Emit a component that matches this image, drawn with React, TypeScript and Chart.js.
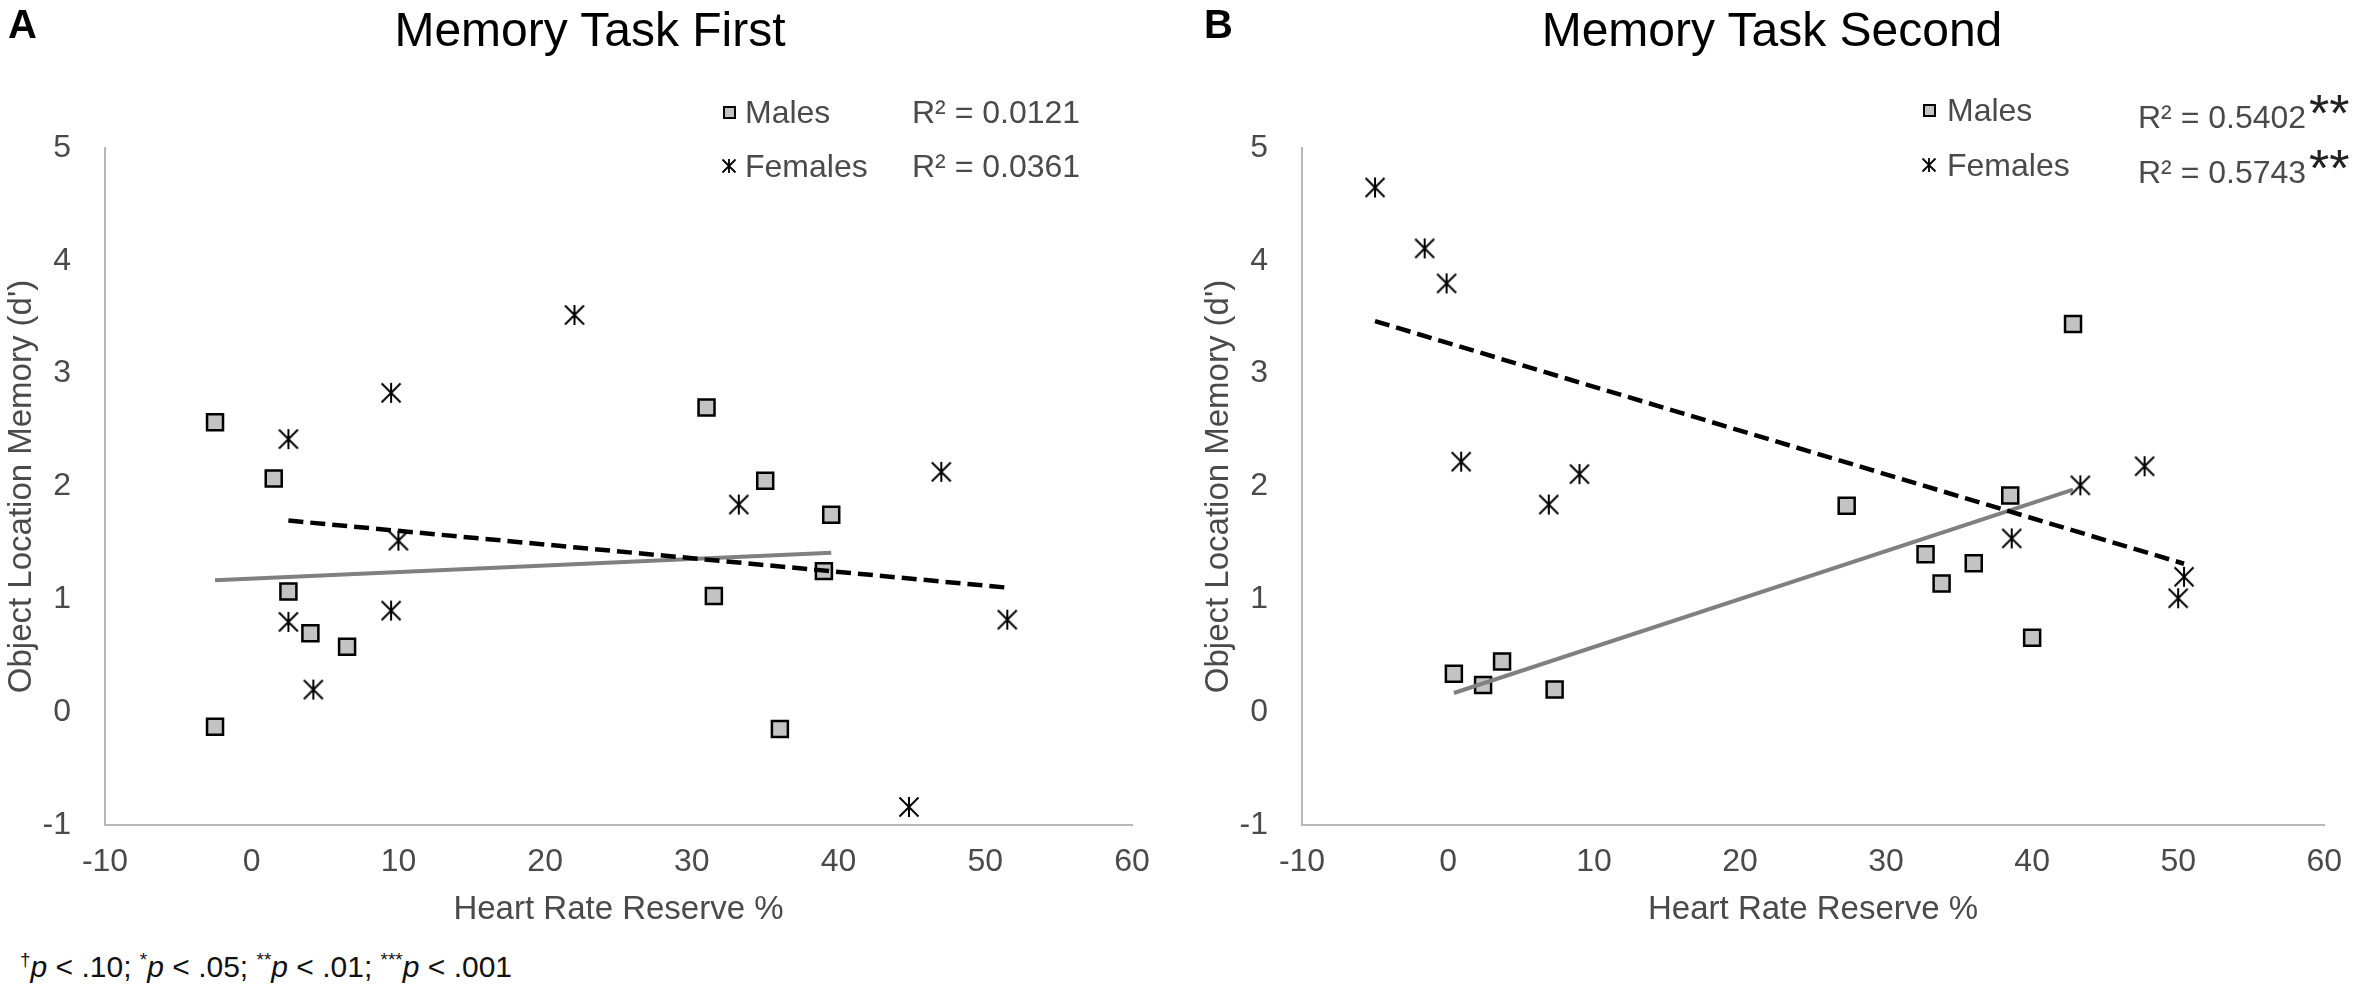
import { useEffect, useRef } from "react"
import { Chart, registerables } from "chart.js"

Chart.register(...registerables)

// Panel A: memory task first
const firstMalesX = [-2.5, 1.5, 2.5, 4, 6.5, -2.5, 31, 35, 39.5, 31.5, 39, 36]
const firstMalesY = [2.57, 2.07, 1.07, 0.7, 0.58, -0.13, 2.7, 2.05, 1.75, 1.03, 1.25, -0.15]
const firstFemalesX = [2.5, 9.5, 22, 10, 2.5, 9.5, 4.2, 33.2, 47, 51.5, 44.8]
const firstFemalesY = [2.42, 2.83, 3.52, 1.52, 0.8, 0.9, 0.2, 1.84, 2.13, 0.82, -0.84]

// Panel B: memory task second
const secondMalesX = [0.4, 2.4, 3.7, 7.3, 27.3, 32.7, 33.8, 36, 38.5, 40, 42.8]
const secondMalesY = [0.34, 0.24, 0.45, 0.2, 1.83, 1.4, 1.14, 1.32, 1.92, 0.66, 3.44]
const secondFemalesX = [-5, -1.6, -0.1, 0.9, 6.9, 9, 38.6, 43.3, 47.7, 50.4, 50]
const secondFemalesY = [4.65, 4.11, 3.8, 2.22, 1.84, 2.11, 1.54, 2.01, 2.18, 1.2, 1.01]

const firstR2 = ["R² = 0.0121", "R² = 0.0361"]
const secondR2 = ["R² = 0.5402", "R² = 0.5743"]

const FONT = "'Liberation Sans', Arial, Helvetica, sans-serif"
const TEXT = "#4a4a4a"

function toPoints(xs: number[], ys: number[]) {
  return xs.map((x, i) => ({ x, y: ys[i] }))
}

// least squares trendline, drawn over the x range of the data
function trend(xs: number[], ys: number[]) {
  const n = xs.length
  const mx = xs.reduce((a, b) => a + b, 0) / n
  const my = ys.reduce((a, b) => a + b, 0) / n
  let sxy = 0
  let sxx = 0
  for (let i = 0; i < n; i++) {
    sxy += (xs[i] - mx) * (ys[i] - my)
    sxx += (xs[i] - mx) * (xs[i] - mx)
  }
  const slope = sxy / sxx
  const b = my - slope * mx
  const lo = Math.min(...xs)
  const hi = Math.max(...xs)
  return [
    { x: lo, y: b + slope * lo },
    { x: hi, y: b + slope * hi },
  ]
}

function makeStar(size: number) {
  const c = document.createElement("canvas")
  c.width = size
  c.height = size
  const ctx = c.getContext("2d")!
  const h = size / 2 - 1.5
  ctx.translate(size / 2, size / 2)
  ctx.strokeStyle = "#000"
  ctx.lineWidth = 2
  ctx.beginPath()
  ctx.moveTo(-h, -h)
  ctx.lineTo(h, h)
  ctx.moveTo(h, -h)
  ctx.lineTo(-h, h)
  ctx.moveTo(0, -h - 0.5)
  ctx.lineTo(0, h + 0.5)
  ctx.stroke()
  return c
}

interface PanelProps {
  malesX: number[]
  malesY: number[]
  femalesX: number[]
  femalesY: number[]
  left: number
  width: number
  padRight: number
}

function Panel({ malesX, malesY, femalesX, femalesY, left, width, padRight }: PanelProps) {
  const canvasRef = useRef<HTMLCanvasElement>(null)

  useEffect(() => {
    if (!canvasRef.current) return
    const star = makeStar(22)
    const tickFont = { family: FONT, size: 32 }
    const titleFont = { family: FONT, size: 33 }

    const chart = new Chart(canvasRef.current, {
      type: "scatter",
      data: {
        datasets: [
          {
            label: "Males",
            data: toPoints(malesX, malesY),
            pointStyle: "rect",
            radius: 11.3,
            backgroundColor: "#c3c3c3",
            borderColor: "#000",
            borderWidth: 2.5,
            order: 2,
          },
          {
            label: "Females",
            data: toPoints(femalesX, femalesY),
            pointStyle: star,
            radius: 11,
            order: 2,
          },
          {
            type: "line",
            label: "Males trend",
            data: trend(malesX, malesY),
            borderColor: "#808080",
            borderWidth: 4,
            pointRadius: 0,
            order: 1,
          },
          {
            type: "line",
            label: "Females trend",
            data: trend(femalesX, femalesY),
            borderColor: "#000",
            borderWidth: 4.5,
            borderDash: [15, 7],
            pointRadius: 0,
            order: 0,
          },
        ],
      },
      options: {
        animation: false,
        responsive: false,
        devicePixelRatio: 1,
        layout: { padding: { top: 148, right: padRight, left: 0, bottom: 0 } },
        plugins: { legend: { display: false }, tooltip: { enabled: false } },
        scales: {
          x: {
            type: "linear",
            min: -10,
            max: 60,
            ticks: { stepSize: 10, font: tickFont, color: TEXT, padding: 18 },
            grid: { display: false, drawTicks: false },
            border: { color: "#b8b8b8", width: 2 },
            title: {
              display: true,
              text: "Heart Rate Reserve %",
              font: titleFont,
              color: TEXT,
              padding: { top: 0, bottom: 10 },
            },
            afterFit: (s) => {
              s.height = 115
            },
          },
          y: {
            type: "linear",
            min: -1,
            max: 5,
            ticks: { stepSize: 1, font: tickFont, color: TEXT, padding: 34 },
            grid: { display: false, drawTicks: false },
            border: { color: "#b8b8b8", width: 2 },
            title: {
              display: true,
              text: "Object Location Memory (d')",
              font: titleFont,
              color: TEXT,
              padding: { top: 2, bottom: 0 },
            },
            afterFit: (s) => {
              s.width = 105
            },
          },
        },
      },
    })

    return () => {
      chart.destroy()
    }
  }, [malesX, malesY, femalesX, femalesY, padRight])

  return (
    <canvas
      ref={canvasRef}
      width={width}
      height={940}
      style={{ position: "absolute", left, top: 0, width, height: 940 }}
    />
  )
}

function StarIcon() {
  return (
    <svg width="16" height="16" viewBox="0 0 16 16" style={{ display: "block" }}>
      <path d="M1.5 1.5 L14.5 14.5 M14.5 1.5 L1.5 14.5 M8 1 L8 15" stroke="#000" strokeWidth="1.8" fill="none" />
    </svg>
  )
}

function SquareIcon() {
  return (
    <div
      style={{
        width: 13,
        height: 13,
        boxSizing: "border-box",
        background: "#c3c3c3",
        border: "2px solid #000",
      }}
    />
  )
}

interface LegendProps {
  markerX: number
  textX: number
  r2X: number
  rows: number[]
  r2: string[]
  stars?: boolean
}

function Legend({ markerX, textX, r2X, rows, r2, stars }: LegendProps) {
  const labels = ["Males", "Females"]
  return (
    <>
      {labels.map((lab, i) => (
        <div key={lab}>
          <div style={{ position: "absolute", left: markerX - 10, top: rows[i] - 10, width: 20, height: 20, display: "flex", alignItems: "center", justifyContent: "center" }}>
            {i === 0 ? <SquareIcon /> : <StarIcon />}
          </div>
          <div style={{ position: "absolute", left: textX, top: rows[i] - 16, fontSize: 32, lineHeight: "32px", color: TEXT, whiteSpace: "nowrap" }}>
            {lab}
          </div>
          <div style={{ position: "absolute", left: r2X, top: rows[i] - 16, fontSize: 32, lineHeight: "32px", color: TEXT, whiteSpace: "nowrap" }}>
            {r2[i]}
            {stars && (
              <span style={{ position: "relative", top: 3, fontSize: 52, lineHeight: "32px", color: "#222", marginLeft: 3 }}>**</span>
            )}
          </div>
        </div>
      ))}
    </>
  )
}

export default function App() {
  return (
    <div
      style={{
        position: "fixed",
        left: 0,
        top: 0,
        width: 2360,
        height: 990,
        background: "#fff",
        overflow: "hidden",
        fontFamily: FONT,
      }}
    >
      <Panel malesX={firstMalesX} malesY={firstMalesY} femalesX={firstFemalesX} femalesY={firstFemalesY} left={0} width={1180} padRight={48} />
      <Panel malesX={secondMalesX} malesY={secondMalesY} femalesX={secondFemalesX} femalesY={secondFemalesY} left={1197} width={1163} padRight={29} />

      <div style={{ position: "absolute", left: 8, top: 4, fontSize: 40, lineHeight: "40px", fontWeight: "bold", color: "#000" }}>A</div>
      <div style={{ position: "absolute", left: 1204, top: 4, fontSize: 40, lineHeight: "40px", fontWeight: "bold", color: "#000" }}>B</div>
      <div style={{ position: "absolute", left: 90, width: 1000, top: 6, textAlign: "center", fontSize: 48, lineHeight: "48px", color: "#000" }}>
        Memory Task First
      </div>
      <div style={{ position: "absolute", left: 1272, width: 1000, top: 6, textAlign: "center", fontSize: 48, lineHeight: "48px", color: "#000" }}>
        Memory Task Second
      </div>

      <Legend markerX={729} textX={745} r2X={912} rows={[112, 166]} r2={firstR2} />
      <Legend markerX={1929} textX={1947} r2X={2138} rows={[110, 165]} r2={secondR2} stars />

      <div style={{ position: "absolute", left: 20, top: 945, fontSize: 30, lineHeight: "30px", color: "#111", whiteSpace: "nowrap" }}>
        <sup style={{ fontSize: 19 }}>†</sup>
        <i>p</i> &lt; .10; <sup style={{ fontSize: 19 }}>*</sup>
        <i>p</i> &lt; .05; <sup style={{ fontSize: 19 }}>**</sup>
        <i>p</i> &lt; .01; <sup style={{ fontSize: 19 }}>***</sup>
        <i>p</i> &lt; .001
      </div>
    </div>
  )
}
